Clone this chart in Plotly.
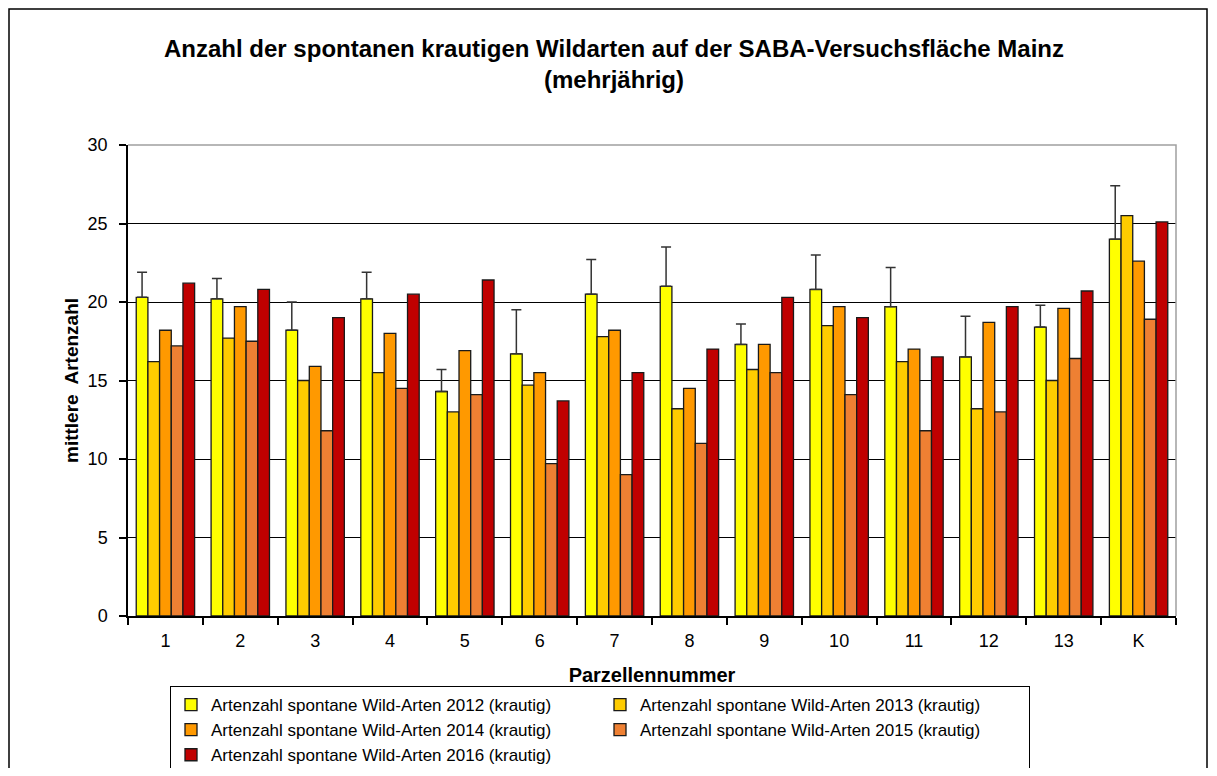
import plotly.graph_objects as go

categories = ["1", "2", "3", "4", "5", "6", "7", "8", "9", "10", "11", "12", "13", "K"]
v2012 = [20.3, 20.2, 18.2, 20.2, 14.3, 16.7, 20.5, 21.0, 17.3, 20.8, 19.7, 16.5, 18.4, 24.0]
err2012_top = [21.9, 21.5, 20.0, 21.9, 15.7, 19.5, 22.7, 23.5, 18.6, 23.0, 22.2, 19.1, 19.8, 27.4]
v2013 = [16.2, 17.7, 15.0, 15.5, 13.0, 14.7, 17.8, 13.2, 15.7, 18.5, 16.2, 13.2, 15.0, 25.5]
v2014 = [18.2, 19.7, 15.9, 18.0, 16.9, 15.5, 18.2, 14.5, 17.3, 19.7, 17.0, 18.7, 19.6, 22.6]
v2015 = [17.2, 17.5, 11.8, 14.5, 14.1, 9.7, 9.0, 11.0, 15.5, 14.1, 11.8, 13.0, 16.4, 18.9]
v2016 = [21.2, 20.8, 19.0, 20.5, 21.4, 13.7, 15.5, 17.0, 20.3, 19.0, 16.5, 19.7, 20.7, 25.1]
y_ticks = [0, 5, 10, 15, 20, 25, 30]

names = [
    "Artenzahl spontane Wild-Arten 2012 (krautig)",
    "Artenzahl spontane Wild-Arten 2013 (krautig)",
    "Artenzahl spontane Wild-Arten 2014 (krautig)",
    "Artenzahl spontane Wild-Arten 2015 (krautig)",
    "Artenzahl spontane Wild-Arten 2016 (krautig)",
]
colors = ["#FFFF00", "#FFCC00", "#FF9900", "#EE8033", "#C00000"]
series = [v2012, v2013, v2014, v2015, v2016]

FONT = "Liberation Sans, Arial, sans-serif"

# figure is placed by the page with an 8px body margin
W, H = 1201, 760
L, R, T, B = 120, 33, 137, 152
PW, PH = W - L - R, H - T - B


def px(fx):  # figure x pixel -> paper
    return (fx - L) / PW


def py(fy):  # figure y pixel -> paper
    return (H - B - fy) / PH


fig = go.Figure()
for i, (name, vals, col) in enumerate(zip(names, series, colors)):
    kw = {}
    if i == 0:
        kw["error_y"] = dict(
            type="data",
            symmetric=False,
            array=[t - v for t, v in zip(err2012_top, vals)],
            arrayminus=[0] * len(vals),
            color="#333333",
            thickness=1.5,
            width=5,
        )
    fig.add_trace(go.Bar(
        x=categories, y=vals, name=name,
        marker=dict(color=col, line=dict(color="#1a1a1a", width=1.3)),
        **kw,
    ))

fig.update_layout(
    width=W, height=H,
    margin=dict(l=L, r=R, t=T, b=B, autoexpand=False),
    paper_bgcolor="white", plot_bgcolor="white",
    barmode="group", bargap=0.22, bargroupgap=0,
    font=dict(family=FONT, size=18, color="black"),
    title=dict(
        text="<b>Anzahl der spontanen krautigen Wildarten auf der SABA-Versuchsfläche Mainz<br>(mehrjährig)</b>",
        x=(614 - 8) / W, xanchor="center", xref="container",
        y=1 - 49 / H, yanchor="top", yref="container",
        font=dict(family=FONT, size=24, color="black"),
    ),
    legend=dict(
        orientation="h",
        x=(162) / W, xanchor="left", xref="container",
        y=1 - 678 / H, yanchor="top", yref="container",
        entrywidth=384,
        bordercolor="black", borderwidth=1,
        font=dict(family=FONT, size=17, color="black"),
    ),
    showlegend=True,
)

fig.update_xaxes(
    type="category",
    showline=True, linecolor="black", linewidth=1.5,
    ticks="outside", tickson="boundaries", ticklen=7, tickcolor="black", tickwidth=1.5,
    ticklabelstandoff=8,
    showgrid=False,
    tickfont=dict(family=FONT, size=18),
    title=dict(text="<b>Parzellennummer</b>", font=dict(family=FONT, size=20), standoff=24),
)
fig.update_yaxes(
    range=[0, 30], tickvals=y_ticks,
    showline=True, linecolor="black", linewidth=1.5,
    ticks="outside", ticklen=7, tickcolor="black", tickwidth=1.5,
    ticklabelstandoff=8,
    showgrid=True, gridcolor="black", gridwidth=1.2,
    zeroline=False,
    tickfont=dict(family=FONT, size=18),
    title=dict(text="<b>mittlere  Artenzahl</b>", font=dict(family=FONT, size=19), standoff=4),
)

# grey plot-area border (top & right)
fig.add_shape(type="path", xref="paper", yref="paper",
              path="M 0,1 L 1,1 L 1,0", line=dict(color="#A0A0A0", width=1.5), layer="above")
# outer chart frame
fig.add_shape(type="rect", xref="paper", yref="paper",
              x0=px(1), x1=px(1199), y0=py(H + 20), y1=py(1),
              line=dict(color="black", width=1.5), layer="above")

fig.write_html("out.html")
